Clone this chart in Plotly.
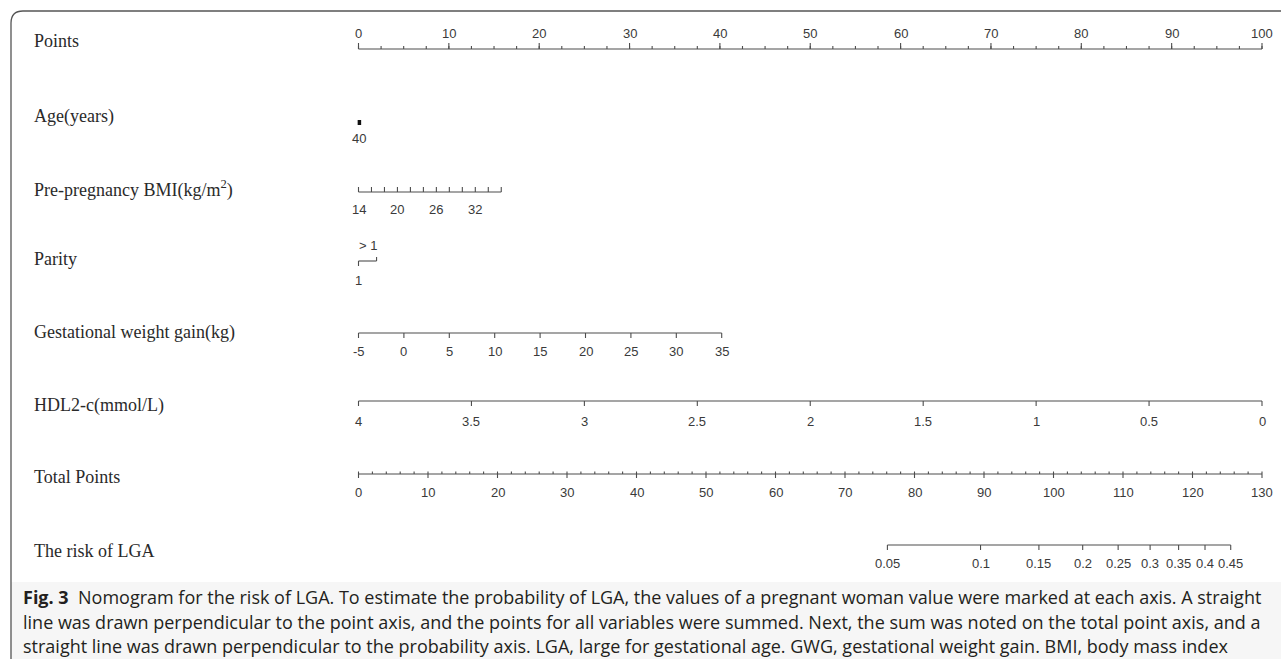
import plotly.graph_objects as go

# ---------------- data ----------------
row_labels = ["Points", "Age(years)", "Pre-pregnancy BMI(kg/m<sup>2</sup>)", "Parity",
              "Gestational weight gain(kg)", "HDL2-c(mmol/L)", "Total Points", "The risk of LGA"]

points_major = [0, 10, 20, 30, 40, 50, 60, 70, 80, 90, 100]
points_minor = [i * 2.5 for i in range(41)]

age_values = [40]
age_points = [0.1]

bmi_ticks = [14, 16, 18, 20, 22, 24, 26, 28, 30, 32, 34, 36]
bmi_labels = [14, 20, 26, 32]
bmi_value_range = [14, 36]
bmi_point_range = [0, 15.8]

parity_levels = ["1", "> 1"]
parity_points = [0, 2.0]

gwg_ticks = [-5, 0, 5, 10, 15, 20, 25, 30, 35]
gwg_value_range = [-5, 35]
gwg_point_range = [0, 40.2]

hdl_ticks = [4, 3.5, 3, 2.5, 2, 1.5, 1, 0.5, 0]
hdl_labels = ["4", "3.5", "3", "2.5", "2", "1.5", "1", "0.5", "0"]
hdl_value_range = [4, 0]
hdl_point_range = [0, 100]

total_major = [0, 10, 20, 30, 40, 50, 60, 70, 80, 90, 100, 110, 120, 130]
total_minor = list(range(0, 131, 2))
total_max = 130

risk_probs = ["0.05", "0.1", "0.15", "0.2", "0.25", "0.3", "0.35", "0.4", "0.45"]
risk_total_points = [76.1, 89.5, 97.9, 104.2, 109.3, 113.9, 118.0, 121.8, 125.5]

caption_bold = "Fig. 3"
caption_lines = [
    "  Nomogram for the risk of LGA. To estimate the probability of LGA, the values of a pregnant woman value were marked at each axis. A straight",
    "line was drawn perpendicular to the point axis, and the points for all variables were summed. Next, the sum was noted on the total point axis, and a",
    "straight line was drawn perpendicular to the probability axis. LGA, large for gestational age. GWG, gestational weight gain. BMI, body mass index",
]

# ---------------- layout constants ----------------
W, H = 1281, 659
X0_PX, PX_PER_PT = 358.5, 9.035
LINE_C = "#4d4d4d"
TXT_C = "#3a3a3a"
TICK_FONT = dict(family="Liberation Sans, Arial", size=13, color=TXT_C)
LABEL_FONT = dict(family="Liberation Serif, Times New Roman", size=18, color="#2a2a2a")

row_y = [41, 116, 189, 259, 332, 405, 477, 551]


def lin(v, vr, pr):
    return pr[0] + (v - vr[0]) * (pr[1] - pr[0]) / (vr[1] - vr[0])


xs, ys = [], []
annots = []


def seg(x0, x1, y0, y1):
    xs.extend([x0, x1, None])
    ys.extend([y0, y1, None])


def tlabel(x, y, text):
    annots.append(dict(x=x, y=y, xref="x", yref="y", text=str(text), showarrow=False,
                       font=TICK_FONT, xanchor="center", yanchor="middle"))


# Points axis
yl = 49
seg(points_minor[0], points_minor[-1], yl, yl)
for p in points_minor:
    seg(p, p, yl, yl - 3)
for p in points_major:
    seg(p, p, yl, yl - 6)
    tlabel(p, 33, p)

# Age
for v, p in zip(age_values, age_points):
    tlabel(p, 138, v)
age_trace = go.Scatter(x=[age_points[0], age_points[0]], y=[120, 125], mode="lines",
                       line=dict(color="#111", width=3.5), hoverinfo="skip", showlegend=False)

# BMI
yl = 192
bp = [lin(v, bmi_value_range, bmi_point_range) for v in bmi_ticks]
seg(bp[0], bp[-1], yl, yl)
for v, p in zip(bmi_ticks, bp):
    seg(p, p, yl, yl - 5)
    if v in bmi_labels:
        tlabel(p, 209, v)

# Parity
yl = 261
seg(parity_points[0], parity_points[1], yl, yl)
seg(parity_points[0], parity_points[0], yl, yl + 5)
seg(parity_points[1], parity_points[1], yl, yl - 4)
tlabel(parity_points[0], 280, parity_levels[0])
tlabel((parity_points[0] + parity_points[1]) / 2, 245, parity_levels[1])

# GWG
yl = 333
gp = [lin(v, gwg_value_range, gwg_point_range) for v in gwg_ticks]
seg(gp[0], gp[-1], yl, yl)
for v, p in zip(gwg_ticks, gp):
    seg(p, p, yl, yl + 5)
    tlabel(p, 351, v)

# HDL
yl = 401
hp = [lin(v, hdl_value_range, hdl_point_range) for v in hdl_ticks]
seg(hp[0], hp[-1], yl, yl)
for t, p in zip(hdl_labels, hp):
    seg(p, p, yl, yl + 5)
    tlabel(p, 421, t)

# Total points
yl = 474
to_pts = lambda tp: tp * 100.0 / total_max
seg(to_pts(total_minor[0]), to_pts(total_minor[-1]), yl, yl)
for t in total_minor:
    seg(to_pts(t), to_pts(t), yl, yl - 2.5)
for t in total_major:
    seg(to_pts(t), to_pts(t), yl, yl + 4)
    tlabel(to_pts(t), 492, t)

# Risk
yl = 545
rp = [to_pts(t) for t in risk_total_points]
seg(rp[0], rp[-1], yl, yl)
for t, p in zip(risk_probs, rp):
    seg(p, p, yl, yl + 5)
    tlabel(p, 563, t)

axes_trace = go.Scatter(x=xs, y=ys, mode="lines", line=dict(color=LINE_C, width=1.1),
                        hoverinfo="skip", showlegend=False)

# Row labels
for txt, y in zip(row_labels, row_y):
    annots.append(dict(x=32 / W, y=1 - y / H, xref="paper", yref="paper", text=txt,
                       showarrow=False, font=LABEL_FONT, xanchor="left", yanchor="middle"))

# Caption
CAP_FONT = dict(family="Open Sans, Noto Sans", size=18, color="#231f20")
cap_y = [597, 622, 646]
annots.append(dict(x=21 / W, y=1 - cap_y[0] / H, xref="paper", yref="paper",
                   text="<b>" + caption_bold + "</b>" + caption_lines[0], showarrow=False,
                   font=CAP_FONT, xanchor="left", yanchor="middle"))
for line, y in zip(caption_lines[1:], cap_y[1:]):
    annots.append(dict(x=21 / W, y=1 - y / H, xref="paper", yref="paper", text=line,
                       showarrow=False, font=CAP_FONT, xanchor="left", yanchor="middle"))

# Border (rounded top-left corner) and caption background
bx, by, r = 11, 11, 12
px = lambda v: v / W
py = lambda v: 1 - v / H
border = (f"M {px(bx)},{py(H + 2)} L {px(bx)},{py(by + r)} "
          f"Q {px(bx)},{py(by)} {px(bx + r)},{py(by)} L {px(W + 2)},{py(by)}")
shapes = [
    dict(type="rect", xref="paper", yref="paper", x0=px(bx), x1=1.0, y0=0, y1=py(582),
         fillcolor="#f6f6f6", line=dict(width=0), layer="below"),
    dict(type="path", xref="paper", yref="paper", path=border,
         line=dict(color="#555555", width=1.3)),
]

fig = go.Figure([axes_trace, age_trace])
fig.update_layout(
    width=W, height=H, autosize=False,
    margin=dict(l=0, r=0, t=0, b=0),
    paper_bgcolor="white", plot_bgcolor="rgba(0,0,0,0)",
    xaxis=dict(range=[-X0_PX / PX_PER_PT, (W - X0_PX) / PX_PER_PT], visible=False, fixedrange=True),
    yaxis=dict(range=[H, 0], visible=False, fixedrange=True),
    annotations=annots, shapes=shapes, showlegend=False,
)
fig.write_html("out.html", config={"displayModeBar": False},
               post_script="document.body.style.margin='0';document.body.style.overflow='hidden';")
